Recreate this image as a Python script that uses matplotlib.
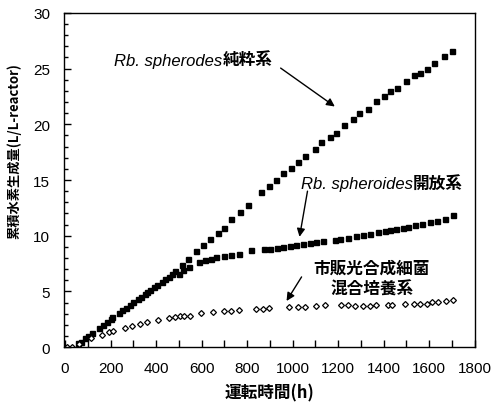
import matplotlib
matplotlib.use("Agg")
import matplotlib.pyplot as plt
from matplotlib.ticker import MultipleLocator

# ---- data ----
pure_x = [55, 86, 118, 147, 182, 208, 236, 268, 300, 333,
          362, 390, 424, 455, 483, 513, 541, 575, 607, 638,
          670, 698, 731, 767, 802, 861, 898, 927, 956, 993,
          1025, 1056, 1096, 1125, 1162, 1191, 1224, 1265, 1291, 1331,
          1367, 1400, 1429, 1458, 1496, 1532, 1558, 1588, 1620, 1664,
          1698]
pure_y = [0.36, 0.85, 1.26, 1.72, 2.28, 2.67, 3.05, 3.54, 4.09, 4.47,
          4.98, 5.37, 5.85, 6.32, 6.8, 7.35, 7.95, 8.62, 9.15, 9.67,
          10.25, 10.72, 11.48, 12.15, 12.8, 13.9, 14.5, 15.0, 15.6, 16.1,
          16.6, 17.2, 17.8, 18.4, 18.9, 19.2, 19.9, 20.5, 21.0, 21.4,
          22.1, 22.5, 23.0, 23.3, 23.9, 24.4, 24.6, 24.95, 25.5, 26.1,
          26.6]

open_x = [70, 100, 165, 200, 250, 285, 320, 350, 375, 405,
          440, 470, 500, 519, 546, 587, 616, 641, 663, 700,
          729, 766, 817, 876, 901, 930, 956, 986, 1015, 1045,
          1077, 1103, 1133, 1184, 1209, 1243, 1279, 1309, 1338, 1375,
          1404, 1426, 1455, 1485, 1507, 1536, 1566, 1602, 1632, 1668,
          1705]
open_y = [0.5, 1.0, 2.0, 2.5, 3.3, 3.8, 4.3, 4.8, 5.15, 5.6,
          6.1, 6.55, 6.6, 6.94, 7.18, 7.63, 7.78, 7.93, 8.08, 8.2,
          8.29, 8.4, 8.68, 8.77, 8.83, 8.92, 8.98, 9.07, 9.13, 9.22,
          9.34, 9.43, 9.52, 9.64, 9.73, 9.82, 9.94, 10.09, 10.18, 10.33,
          10.39, 10.48, 10.63, 10.72, 10.78, 10.93, 11.08, 11.23, 11.32, 11.53,
          11.85]

mix_x = [10, 32, 62, 113, 161, 194, 211, 264, 293, 329,
         362, 406, 455, 484, 505, 524, 549, 597, 648, 700,
         729, 763, 839, 868, 898, 983, 1022, 1052, 1103, 1140,
         1213, 1243, 1272, 1309, 1338, 1367, 1418, 1436, 1492, 1533,
         1558, 1588, 1610, 1639, 1672, 1705]
mix_y = [0.05, 0.05, 0.3, 0.78, 1.08, 1.32, 1.44, 1.74, 1.86, 2.07,
         2.22, 2.43, 2.61, 2.67, 2.76, 2.82, 2.82, 3.06, 3.12, 3.22,
         3.27, 3.33, 3.42, 3.42, 3.48, 3.57, 3.63, 3.63, 3.72, 3.78,
         3.78, 3.78, 3.72, 3.72, 3.72, 3.75, 3.75, 3.81, 3.84, 3.87,
         3.87, 3.9, 4.02, 4.08, 4.17, 4.25]

x_ticks = [0, 200, 400, 600, 800, 1000, 1200, 1400, 1600, 1800]
y_ticks = [0, 5, 10, 15, 20, 25, 30]

xlabel = "運転時間(h)"
ylabel = "累積水素生成量(L/L-reactor)"

CJK = ["Noto Sans CJK JP", "DejaVu Sans"]
LAT = ["Liberation Sans", "DejaVu Sans"]

fig = plt.figure(figsize=(4.92, 4.10), dpi=100)
ax = fig.add_axes([0.130, 0.151, 0.835, 0.815])

ax.plot(pure_x, pure_y, ls="none", marker="s", ms=3.6, color="black")
ax.plot(open_x, open_y, ls="none", marker="s", ms=3.6, color="black")
ax.plot(mix_x, mix_y, ls="none", marker="D", ms=3.0, mfc="white",
        mec="black", mew=0.9)

ax.set_xlim(-5, 1800)
ax.set_ylim(0, 30)
ax.set_xticks(x_ticks)
ax.set_yticks(y_ticks)
ax.xaxis.set_minor_locator(MultipleLocator(100))
ax.yaxis.set_minor_locator(MultipleLocator(1))
ax.tick_params(which="both", direction="in", top=False, right=False)
ax.tick_params(which="major", length=5, width=1)
ax.tick_params(which="minor", length=3, width=1)
ax.tick_params(axis="x", which="minor", length=5)
ax.tick_params(axis="y", which="major", pad=10)
ax.tick_params(axis="x", which="major", pad=10)
for lab in ax.get_xticklabels() + ax.get_yticklabels():
    lab.set_fontfamily(LAT)
    lab.set_fontsize(11)
for sp in ax.spines.values():
    sp.set_linewidth(1.0)

ax.set_xlabel(xlabel, family=CJK, fontsize=12, fontweight="bold", labelpad=6)
ax.set_ylabel(ylabel, family=CJK, fontsize=9.5, fontweight="bold")
ax.yaxis.label.set_va("center")
ax.yaxis.set_label_coords(-0.122, 0.59)

# annotations
arrow = dict(arrowstyle="-|>", lw=1.0, color="black", mutation_scale=12,
             shrinkA=0, shrinkB=0)

ax.text(691, 25.3, "Rb. spherodes", style="italic", family=LAT, fontsize=12,
        ha="right", va="baseline")
ax.text(691, 25.3, "純粋系", family=CJK, fontsize=12, fontweight="bold",
        ha="left", va="baseline")
ax.annotate("", xy=(1185, 21.6), xytext=(947, 25.05), arrowprops=arrow)

ax.text(1527, 14.3, "Rb. spheroides", style="italic", family=LAT, fontsize=12,
        ha="right", va="baseline")
ax.text(1527, 14.3, "開放系", family=CJK, fontsize=12, fontweight="bold",
        ha="left", va="baseline")
ax.annotate("", xy=(1030, 9.9), xytext=(1065, 14.0), arrowprops=arrow)

ax.text(1347, 6.2, "市販光合成細菌\n混合培養系", family=CJK, fontsize=12,
        fontweight="bold", ha="center", va="center", linespacing=1.2)
ax.annotate("", xy=(973, 4.14), xytext=(1039, 6.3), arrowprops=arrow)

fig.savefig("out.png", dpi=100)
